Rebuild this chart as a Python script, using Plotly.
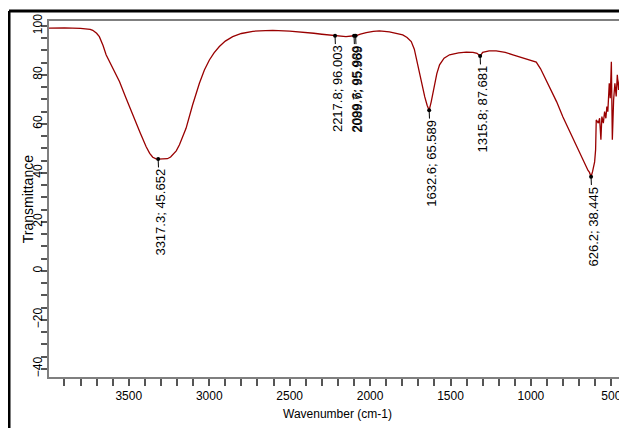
import plotly.graph_objects as go

# ---- data ----
wavenumber = [3996, 3900, 3800, 3766, 3740, 3724, 3700, 3683, 3660, 3641, 3600, 3558, 3520, 3476,
              3430, 3392, 3370, 3351, 3330, 3317.3, 3290, 3260, 3240, 3227, 3205, 3185, 3165, 3144,
              3103, 3061, 3030, 2999, 2970, 2937, 2900, 2854, 2800, 2729, 2650, 2605, 2500, 2450,
              2400, 2350, 2300, 2217.8, 2150, 2099.6, 2089.7, 2060, 2024, 1980, 1942, 1880, 1830,
              1797, 1770, 1744, 1725, 1713, 1697, 1682, 1660, 1645, 1632.6, 1620, 1600, 1585, 1568,
              1540, 1506, 1450, 1402, 1360, 1335, 1315.8, 1300, 1260, 1216, 1160, 1112, 1060, 1009,
              988, 967, 940, 910, 884, 864, 840, 801, 760, 739, 718, 700, 677, 660, 645, 636, 626.2,
              617, 611, 604, 598, 594, 581, 573, 565, 559, 550, 542, 534, 528, 522, 513, 507, 500,
              494, 486, 478, 470, 463, 455, 447, 438, 430, 422, 416, 410.9]
transmittance = [99.1, 99.2, 99.0, 98.9, 98.6, 98.2, 97.0, 95.6, 92.0, 88.2, 82.5, 77.3, 71.0, 63.7,
                 56.5, 50.7, 48.0, 46.4, 45.7, 45.652, 45.6, 45.8, 46.5, 47.5, 49.0, 51.5, 54.5, 58.2,
                 67.8, 76.6, 82.0, 86.1, 89.0, 91.6, 93.8, 95.6, 96.9, 97.8, 98.1, 98.2, 97.9, 97.7,
                 97.4, 97.0, 96.6, 96.003, 95.6, 95.989, 95.969, 96.6, 97.3, 97.8, 98.0, 97.6, 97.0,
                 96.3, 95.3, 93.6, 90.5, 86.8, 82.0, 77.3, 71.0, 67.5, 65.589, 69.0, 75.9, 80.5, 84.1,
                 86.8, 88.2, 89.0, 89.3, 89.2, 88.8, 87.681, 89.2, 89.8, 89.8, 89.2, 88.2, 87.2, 86.3,
                 85.9, 85.2, 82.5, 78.5, 75.0, 72.5, 69.0, 62.8, 57.0, 53.8, 51.2, 48.5, 45.3, 43.0,
                 41.0, 40.2, 38.445, 40.5, 42.5, 44.5, 49.4, 61.6, 60.3, 62.3, 53.5, 63.0, 60.3, 65.0,
                 62.3, 67.1, 65.0, 76.6, 70.5, 85.4, 53.5, 69.8, 76.6, 71.2, 80.0, 73.9, 79.3, 71.2,
                 76.6, 67.1, 64.4, 48.081]

peak_wn = [3317.3, 2217.8, 2099.6, 2089.7, 1632.6, 1315.8, 626.2, 410.9]
peak_t = [45.652, 96.003, 95.989, 95.969, 65.589, 87.681, 38.445, 48.081]

x_tickvals = [3500, 3000, 2500, 2000, 1500, 1000, 500]
y_tickvals = [-40, -20, 0, 20, 40, 60, 80, 100]

FONT = "Arial, Liberation Sans, sans-serif"
AXIS_GRAY = "#7f7f7f"

fig = go.Figure()
fig.add_trace(go.Scatter(x=wavenumber, y=transmittance, mode="lines",
                         line=dict(color="#990000", width=1.3), hoverinfo="skip"))
fig.add_trace(go.Scatter(x=peak_wn, y=peak_t, mode="markers",
                         marker=dict(color="black", size=4), hoverinfo="skip", cliponaxis=False))


def text_width(s, size=13):
    w = 0.0
    for ch in s:
        w += 0.556 * size if ch.isdigit() else 0.278 * size
    return w


for wn, t in zip(peak_wn, peak_t):
    label = f"{wn}; {t}"
    fig.add_annotation(x=wn, y=t, text=label, textangle=-90, showarrow=True,
                       arrowhead=0, arrowwidth=1, arrowcolor="black",
                       ax=2, ay=10 + text_width(label) / 2,
                       font=dict(family=FONT, size=13, color="black"))

# y-axis title as a free annotation for exact placement
fig.add_annotation(xref="paper", yref="paper", x=-0.036, y=0.5, text="Transmittance",
                   textangle=-90, showarrow=False, xanchor="center", yanchor="middle",
                   font=dict(family=FONT, size=14, color="black"))

axis_common = dict(showline=True, linecolor=AXIS_GRAY, linewidth=2, mirror=True,
                   ticks="outside", tickcolor="#555555", tickwidth=1.5, showgrid=False,
                   zeroline=False, automargin=False,
                   tickfont=dict(family=FONT, size=12, color="black"))

fig.update_xaxes(range=[3996, 409], tickvals=x_tickvals, ticklen=7,
                 minor=dict(dtick=100, ticks="outside", ticklen=7, tickcolor="#555555", tickwidth=1.5),
                 title=dict(text="Wavenumber (cm-1)", font=dict(family=FONT, size=12, color="black"),
                            standoff=7),
                 **axis_common)
fig.update_yaxes(range=[-43.3, 102], tickvals=y_tickvals, ticklen=6, tickangle=-90,
                 ticklabelstandoff=-6,
                 minor=dict(dtick=5, ticks="outside", ticklen=6, tickcolor="#555555", tickwidth=1.5),
                 **axis_common)

# outer black frame (left and top edges)
fig.add_shape(type="line", xref="paper", yref="paper", x0=-0.0693, x1=-0.0693, y0=1.028, y1=-0.2,
              line=dict(color="black", width=3))
fig.add_shape(type="line", xref="paper", yref="paper", x0=-0.0693, x1=1.05, y0=1.028, y1=1.028,
              line=dict(color="black", width=3))

# page body has an 8px default margin, so the figure is drawn 8px smaller and shifted
fig.update_layout(width=619, height=420, margin=dict(l=41, r=1, t=13, b=51, autoexpand=False),
                  paper_bgcolor="white", plot_bgcolor="white", showlegend=False,
                  font=dict(family=FONT))

fig.write_html("out.html")
